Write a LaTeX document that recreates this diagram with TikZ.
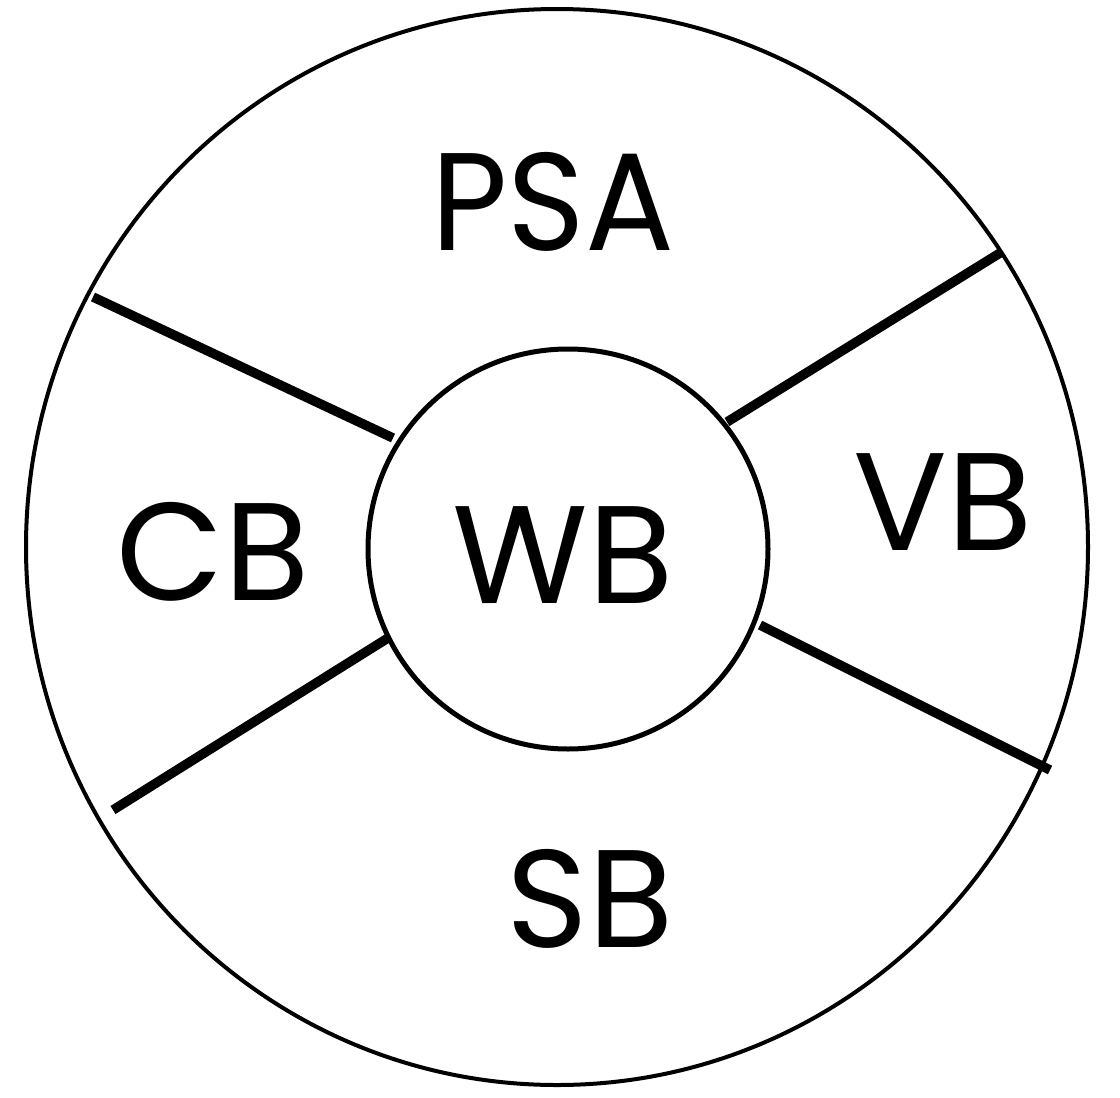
\documentclass[tikz,border=0pt]{standalone}
\usepackage{fontspec}
\setmainfont{Poppins}
\begin{document}
\begin{tikzpicture}[x=1pt,y=-1pt,
  ring/.style={draw,circle,inner sep=0pt},
  spoke/.style={line width=9.5pt},
  lab/.style={font=\fontsize{139}{139}\selectfont,inner sep=0pt,anchor=base}]
\useasboundingbox (0,0) rectangle (1120,1098);
\draw[line width=4pt] (557,547) ellipse [x radius=531, y radius=538];
\node[ring,line width=5pt,minimum size=400pt] (wb) at (568,549) {};
\coordinate (o1) at (93,297);
\coordinate (i1) at (393,438);
\coordinate (o2) at (1000,253);
\coordinate (i2) at (727,422);
\coordinate (o3) at (113,810);
\coordinate (i3) at (388,638);
\coordinate (o4) at (1050,770);
\coordinate (i4) at (760,625);
\draw[spoke] (o1) -- (i1);
\draw[spoke] (o2) -- (i2);
\draw[spoke] (o3) -- (i3);
\draw[spoke] (o4) -- (i4);
\node[lab,xscale=0.95] (psa) at (553,250) {PSA};
\node[lab] (cb) at (213,600) {CB};
\node[lab] (wbt) at (563,603) {WB};
\node[lab] (vb) at (943,550) {VB};
\node[lab] (sb) at (590,947) {SB};
\end{tikzpicture}
\end{document}
